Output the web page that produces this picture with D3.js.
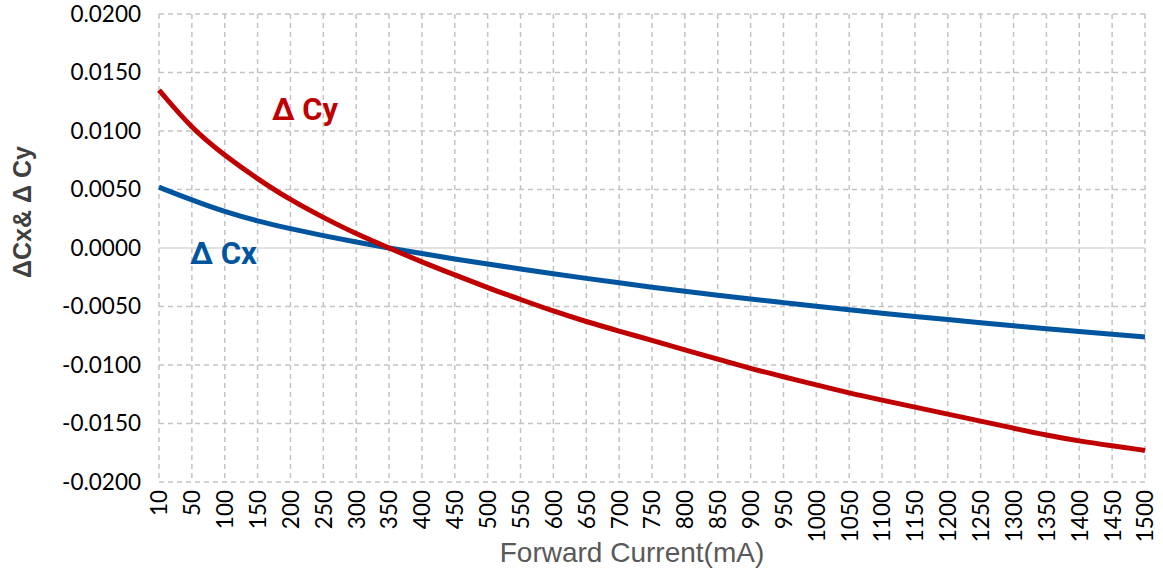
<!DOCTYPE html>
<html><head><meta charset="utf-8">
<script src="https://cdn.jsdelivr.net/npm/d3@7"></script>
<style>body{margin:0;background:#fff}</style>
</head><body>
<svg id="c" width="1163" height="571"></svg>
<script>
const categories = [10,50,100,150,200,250,300,350,400,450,500,550,600,650,700,750,800,850,900,950,1000,1050,1100,1150,1200,1250,1300,1350,1400,1450,1500];
const cxValues = [0.0052,0.0041,0.0031,0.0023,0.00165,0.00105,0.0005,0.0,-0.00048,-0.00094,-0.00137,-0.00179,-0.00220,-0.00260,-0.00298,-0.00335,-0.00370,-0.00403,-0.00436,-0.00467,-0.00498,-0.00528,-0.00557,-0.00585,-0.00612,-0.00639,-0.00665,-0.00690,-0.00714,-0.00737,-0.0076];
const cyValues = [0.0135,0.0102,0.0079,0.0059,0.0041,0.0026,0.0012,0.0,-0.0012,-0.0023,-0.0034,-0.0044,-0.0054,-0.0063,-0.0071,-0.0079,-0.0087,-0.0095,-0.0103,-0.0110,-0.0117,-0.0124,-0.0130,-0.0136,-0.0142,-0.0148,-0.0154,-0.0160,-0.0165,-0.0169,-0.0173];
const yTicks = [0.02,0.015,0.01,0.005,0,-0.005,-0.01,-0.015,-0.02];
const seriesNames = ["\u0394 Cx","\u0394 Cy"];
const xTitle = "Forward Current(mA)";
const yTitle = "\u0394Cx& \u0394 Cy";

const svg = d3.select("#c");
const L = 159, R = 1145, T = 14, B = 482;
const x = d3.scalePoint().domain(categories).range([L, R]);
const y = d3.scaleLinear().domain([-0.02, 0.02]).range([B, T]);

// grid
const g = svg.append("g");
g.selectAll("line.v").data(categories).join("line")
  .attr("x1", d => x(d)).attr("x2", d => x(d)).attr("y1", T).attr("y2", B)
  .attr("stroke", "#c3c3c3").attr("stroke-width", 1.5).attr("stroke-dasharray", "5,4");
g.selectAll("line.h").data(yTicks.filter(d => d !== 0)).join("line")
  .attr("x1", L).attr("x2", R).attr("y1", d => y(d)).attr("y2", d => y(d))
  .attr("stroke", "#c3c3c3").attr("stroke-width", 1.5).attr("stroke-dasharray", "5,4");
g.append("line").attr("x1", L).attr("x2", R).attr("y1", y(0)).attr("y2", y(0))
  .attr("stroke", "#d9d9d9").attr("stroke-width", 1.5);

// y axis labels
const fmt = d => d3.format(".4f")(d).replace("\u2212", "-");
const yAxis = d3.axisLeft(y).tickValues(yTicks).tickFormat(fmt).tickSize(0).tickPadding(18);
const ya = svg.append("g").attr("transform", `translate(${L},0)`).call(yAxis);
ya.select(".domain").remove();
ya.selectAll("text").attr("font-family", "Lato, 'Open Sans', sans-serif").attr("font-size", 22.5).attr("fill", "#000");

// x axis labels
const xAxis = d3.axisBottom(x).tickSize(0).tickPadding(0);
const xa = svg.append("g").attr("transform", `translate(0,${B})`).call(xAxis);
xa.select(".domain").remove();
xa.selectAll("text")
  .attr("font-family", "Lato, 'Open Sans', sans-serif").attr("font-size", 22.5).attr("fill", "#000")
  .attr("text-anchor", "end").attr("dy", "0.35em")
  .attr("transform", "translate(0,8) rotate(-90)").attr("x", 0).attr("y", 0);

// lines
const line = d3.line().x((d, i) => x(categories[i])).y(d => y(d)).curve(d3.curveBasis);
svg.append("path").datum(cxValues).attr("d", line).attr("fill", "none").attr("stroke", "#00559f").attr("stroke-width", 5);
svg.append("path").datum(cyValues).attr("d", line).attr("fill", "none").attr("stroke", "#c00000").attr("stroke-width", 5);

// series labels
svg.append("text").attr("x", 190).attr("y", 264).text(seriesNames[0])
  .attr("font-family", "Roboto, sans-serif").attr("font-weight", "bold").attr("font-size", 31)
  .attr("fill", "#00559f").attr("textLength", 67).attr("lengthAdjust", "spacingAndGlyphs");
svg.append("text").attr("x", 272).attr("y", 120).text(seriesNames[1])
  .attr("font-family", "Roboto, sans-serif").attr("font-weight", "bold").attr("font-size", 31)
  .attr("fill", "#c00000").attr("textLength", 66).attr("lengthAdjust", "spacingAndGlyphs");

// titles
svg.append("text").attr("x", 632).attr("y", 562).attr("text-anchor", "middle").text(xTitle)
  .attr("font-family", "'Liberation Sans', Arial, sans-serif").attr("font-size", 28).attr("fill", "#595959");
svg.append("text").attr("transform", "translate(31,212) rotate(-90)").attr("text-anchor", "middle").text(yTitle)
  .attr("font-family", "'Liberation Sans', Arial, sans-serif").attr("font-weight", "bold").attr("font-size", 25).attr("fill", "#404040");
</script>
</body></html>
